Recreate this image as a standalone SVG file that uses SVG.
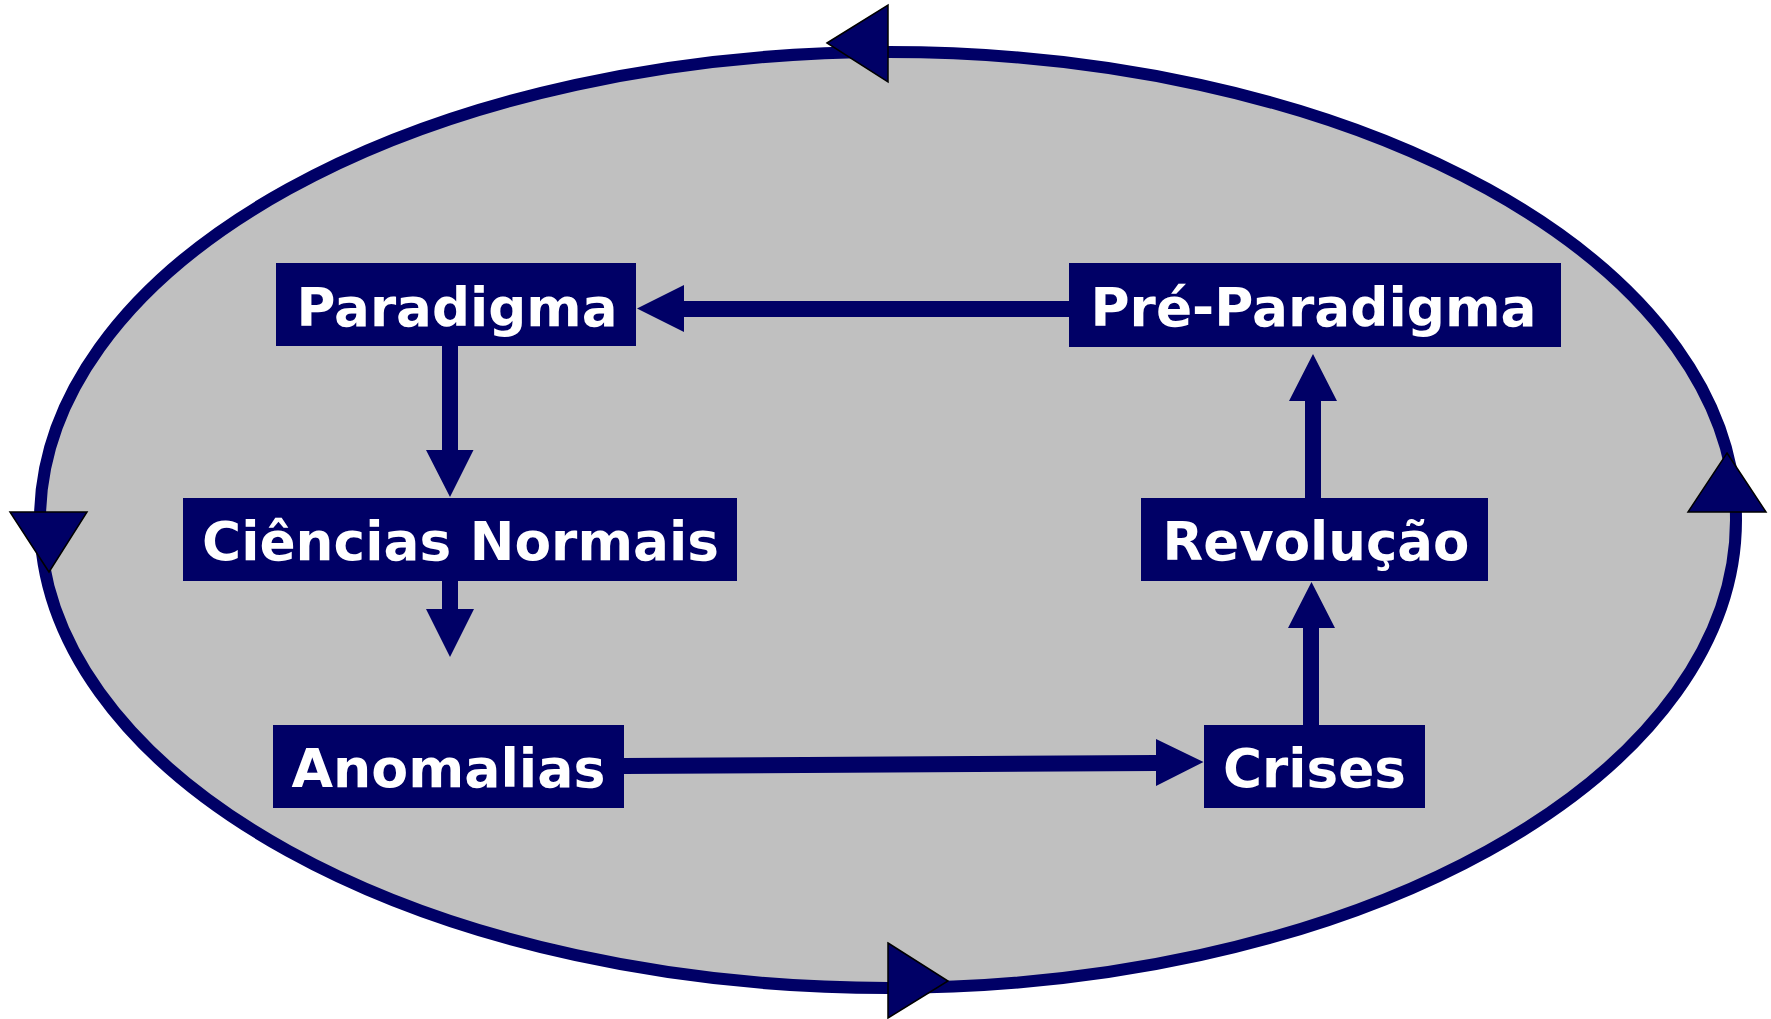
<svg xmlns="http://www.w3.org/2000/svg" width="1771" height="1019" viewBox="0 0 1771 1019">
<style>
.bg{fill:#ffffff}
.cycle{fill:#c0c0c0;stroke:#000066;stroke-width:12}
.cyc-head{fill:#000066;stroke:#000000;stroke-width:1.5;stroke-linejoin:miter}
.box{fill:#000066}
.lbl{fill:#ffffff;font-family:"DejaVu Sans","Verdana",sans-serif;font-weight:bold;font-size:54px;text-anchor:middle}
.arrow{fill:#000066}
</style>
<rect class="bg" x="0" y="0" width="1771" height="1019"/>
<g id="cycle">
<ellipse class="cycle" cx="888" cy="520" rx="848" ry="468"/>
<polygon class="cyc-head" points="827,43 888,5 888,82"/>
<polygon class="cyc-head" points="10,512 87,512 49,572"/>
<polygon class="cyc-head" points="1727,453 1766,512 1688,512"/>
<polygon class="cyc-head" points="888,943 948,981 888,1018"/>
</g>
<g id="connectors">
<polygon class="arrow" points="1069,301 684,301 684,285 637,308.5 684,332 684,317 1069,317"/>
<polygon class="arrow" points="442,346 458,346 458,450 473.5,450 450,497 426,450 442,450"/>
<polygon class="arrow" points="442,581 458,581 458,609 474,609 450,657 426,609 442,609"/>
<polygon class="arrow" points="624,758 1156,755 1156,739 1203.5,762 1156,786 1156,771 624,774"/>
<polygon class="arrow" points="1303,725 1303,628 1288,628 1311.5,582 1335,628 1319,628 1319,725"/>
<polygon class="arrow" points="1305,498 1305,401 1289,401 1313,354 1337,401 1321,401 1321,498"/>
</g>
<g id="node-paradigma">
<rect class="box" x="276" y="263" width="360" height="83"/>
<text class="lbl" x="457" y="326" textLength="321" lengthAdjust="spacingAndGlyphs">Paradigma</text>
</g>
<g id="node-pre-paradigma">
<rect class="box" x="1069" y="263" width="492" height="84"/>
<text class="lbl" x="1313.5" y="326" textLength="446" lengthAdjust="spacingAndGlyphs">Pré-Paradigma</text>
</g>
<g id="node-ciencias-normais">
<rect class="box" x="183" y="498" width="554" height="83"/>
<text class="lbl" x="460.5" y="560" textLength="517" lengthAdjust="spacingAndGlyphs">Ciências Normais</text>
</g>
<g id="node-revolucao">
<rect class="box" x="1141" y="498" width="347" height="83"/>
<text class="lbl" x="1316" y="560" textLength="307" lengthAdjust="spacingAndGlyphs">Revolução</text>
</g>
<g id="node-anomalias">
<rect class="box" x="273" y="725" width="351" height="83"/>
<text class="lbl" x="448.5" y="787" textLength="314" lengthAdjust="spacingAndGlyphs">Anomalias</text>
</g>
<g id="node-crises">
<rect class="box" x="1204" y="725" width="221" height="83"/>
<text class="lbl" x="1314.5" y="787" textLength="183" lengthAdjust="spacingAndGlyphs">Crises</text>
</g>
</svg>
